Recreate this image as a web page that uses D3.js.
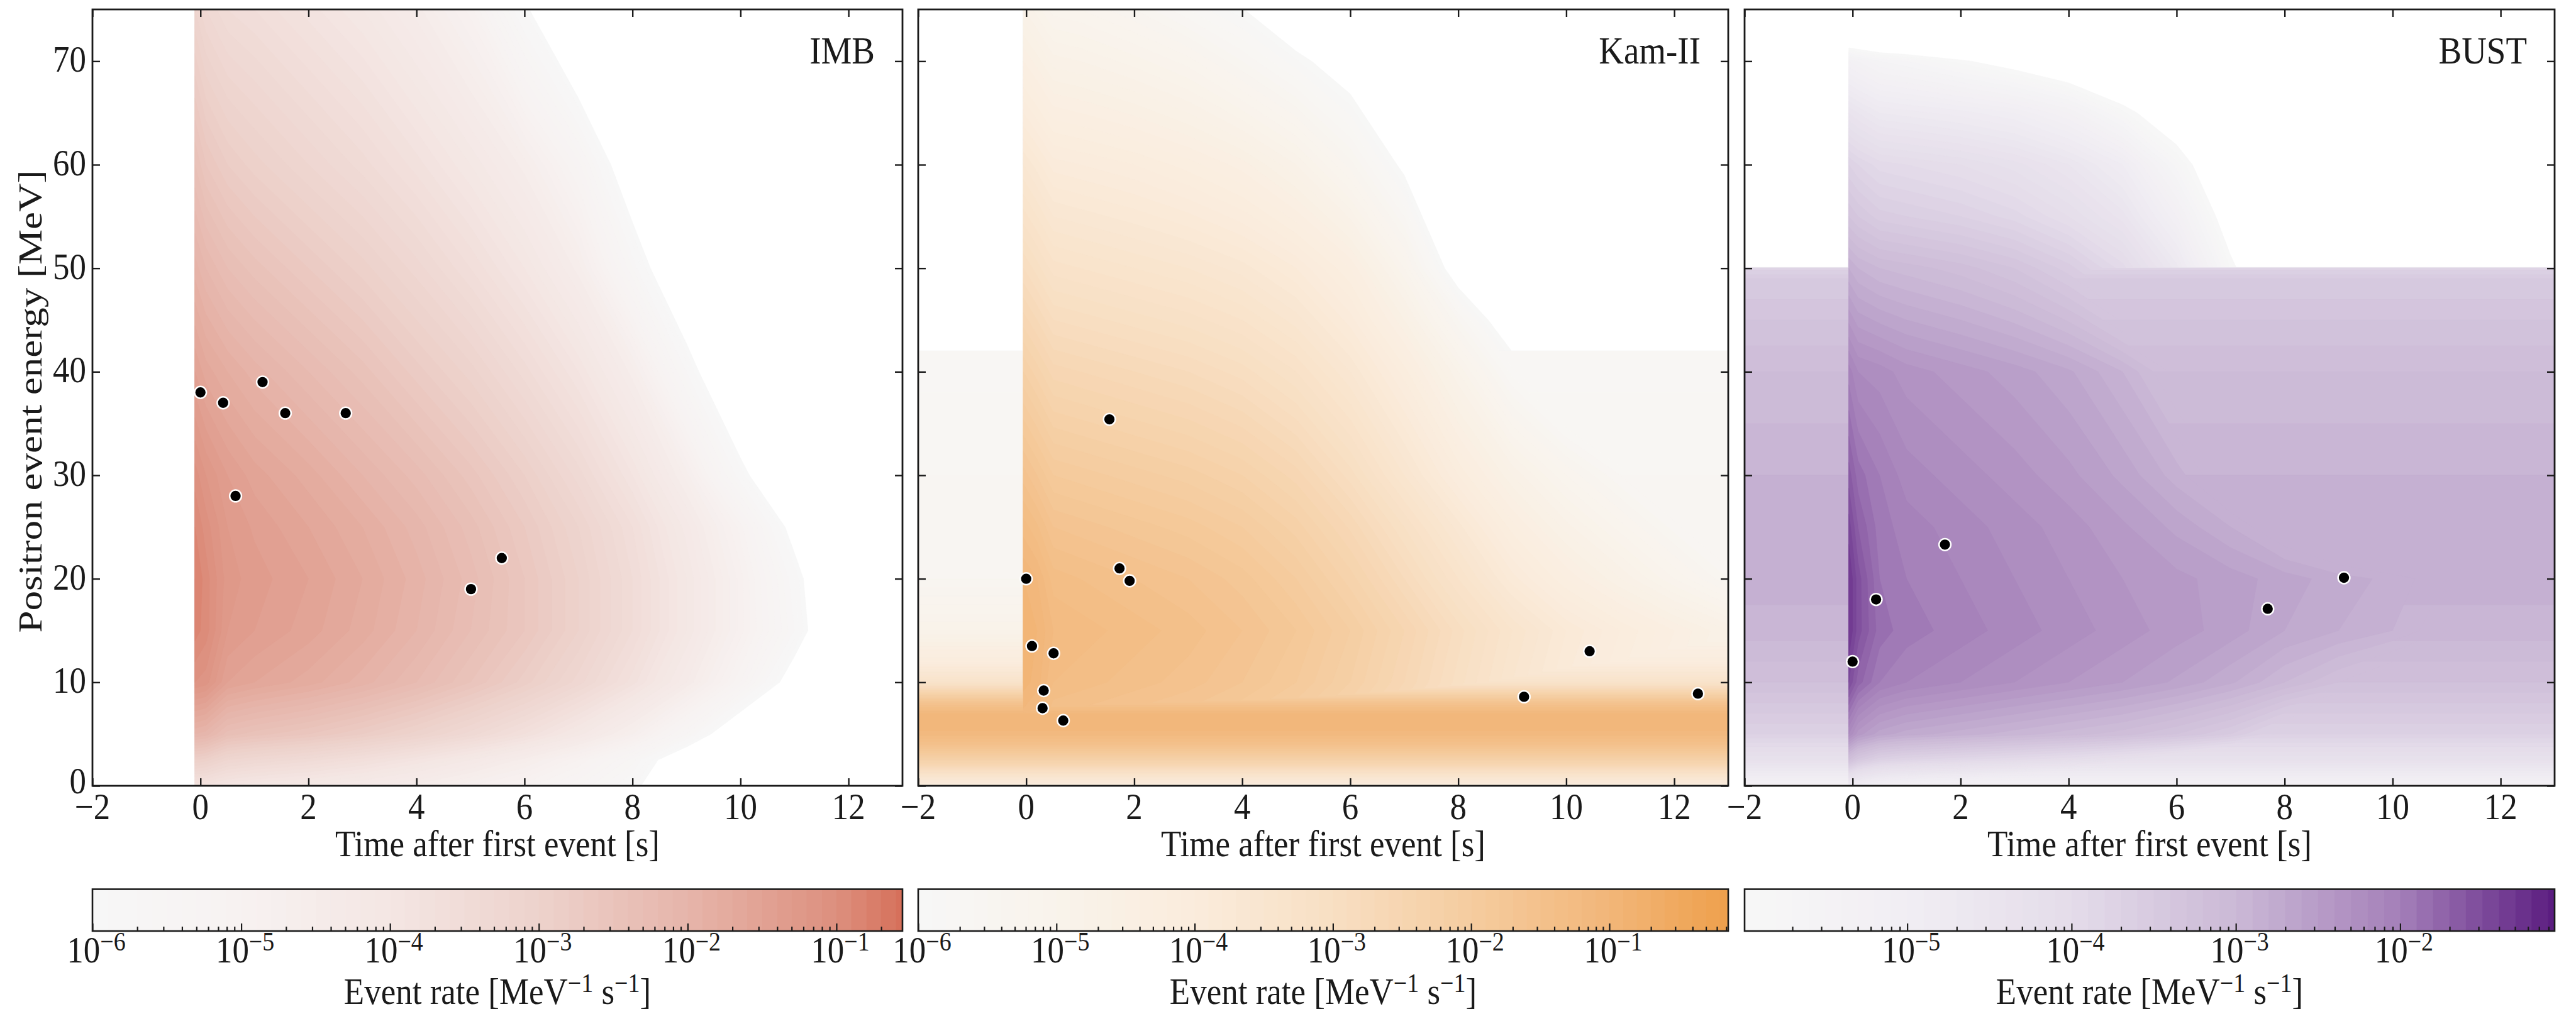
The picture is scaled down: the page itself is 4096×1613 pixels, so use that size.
<!DOCTYPE html>
<html><head><meta charset="utf-8">
<script src="https://cdn.jsdelivr.net/npm/d3@7"></script>
<style>html,body{margin:0;padding:0;background:#fff}svg{display:block}</style>
</head><body>
<svg id="chart" width="4096" height="1613"></svg>
<script>
// ---------------- DATA ----------------
const panelNames = ["IMB", "Kam-II", "BUST"];
const xTickValues = [-2, 0, 2, 4, 6, 8, 10, 12];
const yTickValues = [0, 10, 20, 30, 40, 50, 60, 70];

// observed events
const imbEventTime   = [0, 0.42, 0.65, 1.15, 1.57, 2.69, 5.01, 5.58];
const imbEventEnergy = [38, 37, 28, 39, 36, 36, 19, 22];
const kamEventTime   = [0, 0.107, 0.303, 0.324, 0.507, 0.686, 1.541, 1.728, 1.915, 9.219, 10.433, 12.439];
const kamEventEnergy = [20.0, 13.5, 7.5, 9.2, 12.8, 6.3, 35.4, 21.0, 19.8, 8.6, 13.0, 8.9];
const bustEventTime   = [0, 0.435, 1.71, 7.687, 9.099];
const bustEventEnergy = [12.0, 18.0, 23.3, 17.1, 20.1];

// log10 event rate [MeV^-1 s^-1] (rows = energy, columns = time)
const imbSignalTime   = [-0.1, 0.1, 0.5, 1, 2, 3, 4, 5, 6, 7, 8, 9, 10, 11, 12, 13];
const imbSignalEnergy = [0, 2.5, 5, 10, 15, 20, 25, 30, 40, 50, 60, 75];
const imbLogRate = [
  [-3.8, -3.85, -4.0, -4.1, -4.2, -4.35, -4.55, -4.8, -5.05, -5.4, -5.85, -6.8, -7.8, -8.8, -9.8, -10.8],
  [-2.9, -2.95, -3.2, -3.3, -3.45, -3.65, -3.9, -4.2, -4.55, -5.0, -5.55, -6.5, -7.5, -8.5, -9.5, -10.5],
  [-2.0, -2.05, -2.35, -2.45, -2.6, -2.8, -3.05, -3.35, -3.7, -4.15, -4.7, -5.5, -6.6, -7.8, -9.0, -10.2],
  [-1.1, -1.15, -1.5, -1.6, -1.75, -1.95, -2.2, -2.5, -2.85, -3.25, -3.75, -4.4, -5.2, -6.3, -7.5, -8.7],
  [-0.85, -0.95, -1.3, -1.4, -1.55, -1.75, -2.0, -2.3, -2.6, -3.0, -3.5, -4.1, -4.85, -5.7, -6.9, -8.1],
  [-0.8, -0.95, -1.25, -1.35, -1.5, -1.7, -1.95, -2.25, -2.6, -3.0, -3.5, -4.1, -4.85, -5.8, -7.0, -8.2],
  [-0.9, -1.05, -1.3, -1.42, -1.6, -1.8, -2.05, -2.35, -2.7, -3.1, -3.6, -4.25, -5.05, -6.2, -7.4, -8.6],
  [-1.05, -1.2, -1.4, -1.55, -1.75, -2.0, -2.25, -2.55, -2.9, -3.35, -3.9, -4.65, -5.8, -7.0, -8.2, -9.4],
  [-1.5, -1.65, -1.8, -1.95, -2.2, -2.45, -2.75, -3.05, -3.45, -3.9, -4.55, -5.7, -7.0, -8.2, -9.4, -10.6],
  [-1.95, -2.1, -2.3, -2.45, -2.7, -2.95, -3.25, -3.6, -4.0, -4.55, -5.6, -6.8, -7.8, -8.8, -9.8, -10.8],
  [-2.4, -2.6, -2.8, -2.95, -3.2, -3.45, -3.75, -4.1, -4.55, -5.25, -6.5, -7.5, -8.5, -9.5, -10.5, -11.5],
  [-3.1, -3.3, -3.5, -3.6, -3.85, -4.1, -4.45, -4.95, -5.9, -7.0, -8.0, -9.0, -10.0, -11.0, -12.0, -12.0]
];

const kamSignalTime   = [-0.05, 0.2, 0.5, 1, 2, 3, 4, 5, 6, 7, 8, 9, 10, 11, 12, 13];
const kamSignalEnergy = [0, 2.5, 5, 7.5, 10, 15, 20, 25, 30, 40, 45, 50, 60, 70, 75];
const kamLogRate = [
  [-4.5, -4.6, -4.85, -4.9, -5.0, -5.1, -5.25, -5.45, -5.75, -6.1, -6.5, -6.9, -7.3, -7.7, -8.1, -8.5],
  [-2.6, -2.7, -2.95, -3.0, -3.1, -3.2, -3.35, -3.55, -3.85, -4.25, -4.7, -5.15, -5.55, -5.9, -6.2, -6.5],
  [-1.6, -1.7, -1.95, -2.0, -2.1, -2.2, -2.35, -2.55, -2.85, -3.25, -3.7, -4.15, -4.55, -4.9, -5.2, -5.5],
  [-1.1, -1.2, -1.45, -1.5, -1.6, -1.7, -1.85, -2.05, -2.35, -2.75, -3.2, -3.65, -4.05, -4.4, -4.7, -5.0],
  [-0.95, -1.05, -1.3, -1.35, -1.45, -1.55, -1.7, -1.9, -2.2, -2.6, -3.05, -3.5, -3.9, -4.2, -4.5, -4.8],
  [-0.9, -1.0, -1.2, -1.25, -1.35, -1.45, -1.6, -1.8, -2.1, -2.5, -2.95, -3.4, -3.8, -4.1, -4.4, -4.7],
  [-1.0, -1.1, -1.35, -1.4, -1.5, -1.6, -1.75, -2.0, -2.35, -2.8, -3.3, -3.85, -4.3, -4.7, -5.1, -5.5],
  [-1.25, -1.38, -1.6, -1.65, -1.75, -1.85, -2.0, -2.25, -2.62, -3.1, -3.65, -4.25, -4.75, -5.15, -5.55, -5.95],
  [-1.55, -1.7, -1.9, -1.95, -2.05, -2.15, -2.3, -2.55, -2.95, -3.5, -4.1, -4.7, -5.2, -5.6, -6.0, -6.4],
  [-2.2, -2.35, -2.55, -2.6, -2.7, -2.8, -2.95, -3.2, -3.6, -4.15, -4.9, -5.75, -6.3, -6.8, -7.3, -7.8],
  [-2.55, -2.7, -2.9, -2.95, -3.05, -3.15, -3.3, -3.55, -3.95, -4.6, -5.5, -6.4, -7.1, -7.7, -8.3, -8.9],
  [-2.9, -3.05, -3.25, -3.3, -3.4, -3.5, -3.65, -3.9, -4.3, -5.1, -6.3, -7.2, -7.9, -8.5, -9.1, -9.7],
  [-3.6, -3.75, -3.95, -4.0, -4.1, -4.25, -4.45, -4.8, -5.35, -6.1, -6.9, -7.7, -8.4, -9.0, -9.6, -10.2],
  [-4.4, -4.55, -4.75, -4.8, -4.95, -5.15, -5.5, -5.88, -6.3, -7.0, -7.8, -8.6, -9.4, -10.0, -10.6, -11.2],
  [-4.8, -4.95, -5.15, -5.2, -5.4, -5.7, -5.98, -6.5, -7.1, -7.8, -8.5, -9.2, -9.9, -10.5, -11.1, -11.7]
];
// constant-in-time background (log10 rate) vs energy
const kamBackgroundEnergy  = [0, 1, 2, 3, 4, 5, 6, 7, 8, 9, 10, 12, 15, 20, 30, 42, 42.3, 75];
const kamBackgroundLogRate = [-4.2, -3.4, -2.6, -2.0, -1.5, -1.15, -1.0, -1.1, -1.6, -2.4, -3.3, -4.1, -4.9, -5.5, -5.6, -5.75, -12, -12];

const bustSignalTime   = [-0.07, 0.1, 0.5, 1, 2, 3, 4, 5, 6, 7, 8, 9, 10, 11, 12, 13];
const bustSignalEnergy = [0, 2.5, 5, 10, 15, 20, 25, 30, 40, 50, 55, 60, 65, 70, 75];
const bustLogRate = [
  [-4.8, -5.0, -5.2, -5.3, -5.4, -5.5, -5.6, -5.75, -5.9, -6.1, -6.35, -6.6, -6.9, -7.2, -7.5, -7.8],
  [-3.2, -3.45, -3.7, -3.8, -3.9, -4.0, -4.1, -4.25, -4.4, -4.6, -4.9, -5.15, -5.45, -5.75, -6.05, -6.35],
  [-2.2, -2.45, -2.65, -2.75, -2.85, -2.95, -3.05, -3.15, -3.3, -3.5, -3.85, -4.1, -4.4, -4.7, -5.0, -5.3],
  [-1.5, -1.75, -2.0, -2.1, -2.2, -2.3, -2.4, -2.5, -2.62, -2.78, -3.0, -3.2, -3.4, -3.65, -3.95, -4.25],
  [-1.3, -1.55, -1.85, -1.95, -2.05, -2.15, -2.25, -2.35, -2.45, -2.55, -2.7, -2.8, -2.9, -3.1, -3.35, -3.6],
  [-1.3, -1.55, -1.9, -2.0, -2.1, -2.2, -2.3, -2.4, -2.47, -2.55, -2.65, -2.75, -2.83, -3.0, -3.25, -3.5],
  [-1.45, -1.7, -1.95, -2.05, -2.15, -2.25, -2.35, -2.48, -2.63, -2.8, -3.05, -3.3, -3.65, -4.1, -4.6, -5.1],
  [-1.65, -1.85, -2.0, -2.15, -2.25, -2.35, -2.47, -2.63, -2.85, -3.15, -3.6, -4.15, -4.75, -5.4, -6.0, -6.6],
  [-2.05, -2.2, -2.25, -2.35, -2.45, -2.55, -2.68, -2.9, -3.25, -3.75, -4.4, -5.15, -5.9, -6.6, -7.3, -8.0],
  [-2.8, -2.9, -3.0, -3.05, -3.15, -3.3, -3.55, -3.95, -4.65, -5.9, -6.8, -7.5, -8.2, -8.9, -9.6, -10.3],
  [-3.3, -3.4, -3.55, -3.6, -3.7, -3.85, -4.1, -4.45, -5.2, -6.3, -7.2, -8.0, -8.8, -9.6, -10.4, -11.2],
  [-3.7, -3.8, -3.95, -4.0, -4.1, -4.25, -4.5, -4.9, -5.75, -6.6, -7.4, -8.2, -9.0, -9.8, -10.6, -11.4],
  [-4.4, -4.5, -4.7, -4.75, -4.85, -5.0, -5.3, -5.85, -6.4, -7.0, -7.7, -8.4, -9.1, -9.8, -10.5, -11.2],
  [-5.3, -5.4, -5.6, -5.7, -5.95, -6.2, -6.5, -6.8, -7.2, -7.6, -8.0, -8.4, -8.8, -9.2, -9.6, -10.0],
  [-8, -8, -8, -8, -8, -8, -8, -8, -8, -8, -8, -8, -8, -8, -8, -8]
];
const bustBackgroundEnergy  = [0, 2.5, 5, 10, 15, 20, 25, 30, 35, 40, 45, 49, 50, 50.3, 75];
const bustBackgroundLogRate = [-5.3, -4.3, -3.7, -3.2, -2.95, -2.85, -2.85, -2.9, -3.0, -3.1, -3.3, -3.5, -3.75, -12, -12];

// colour-bar ranges (log10 of min / max)
const imbColorbarRange  = [-6, -0.556];
const kamColorbarRange  = [-6, -0.14];
const bustColorbarRange = [-5.99, -1.06];

// ---------------- STYLE ----------------
const imbStops  = [[-6,"#f7f7f7"],[-5,"#f7f2f1"],[-4,"#f4e6e3"],[-3,"#edd2cc"],[-2,"#e6b5aa"],[-1,"#dd8f7e"],[-0.556,"#d6705b"]];
const kamStops  = [[-6,"#f7f7f7"],[-5,"#f9f3eb"],[-4,"#faecdc"],[-3,"#f8dfc3"],[-2,"#f5cc9f"],[-1,"#f2b679"],[-0.14,"#eea04c"]];
const bustStops = [[-6,"#f7f7f7"],[-5,"#f1eef3"],[-4,"#e4dcea"],[-3,"#cbb9d6"],[-2,"#a47fb9"],[-1.06,"#5b1d80"]];

const FONT = "'Liberation Serif','Times New Roman',serif";
const FS = 53, SY = 1.12, SY_ROT = 1.19;
const L = { lefts: [147, 1460, 2774], width: 1288, top: 15, bottom: 1250, cbTop: 1414.5, cbBottom: 1481 };
const INK = "#1a1a1a";

const svg = d3.select("#chart");
const defs = svg.append("defs");

function txt(g, x, y, anchor, size) {
  return g.append("text")
    .attr("transform", `translate(${x},${y}) scale(1,${SY})`)
    .attr("text-anchor", anchor)
    .attr("font-family", FONT)
    .attr("font-size", size || FS)
    .attr("fill", INK);
}
const minus = v => v < 0 ? "\u2212" + (-v) : String(v);

const panels = [
  { name: panelNames[0], sig: [imbSignalTime, imbSignalEnergy, imbLogRate], bg: null,
    ev: [imbEventTime, imbEventEnergy], range: imbColorbarRange, stops: imbStops },
  { name: panelNames[1], sig: [kamSignalTime, kamSignalEnergy, kamLogRate], bg: [kamBackgroundEnergy, kamBackgroundLogRate],
    ev: [kamEventTime, kamEventEnergy], range: kamColorbarRange, stops: kamStops },
  { name: panelNames[2], sig: [bustSignalTime, bustSignalEnergy, bustLogRate], bg: [bustBackgroundEnergy, bustBackgroundLogRate],
    ev: [bustEventTime, bustEventEnergy], range: bustColorbarRange, stops: bustStops }
];

panels.forEach((p, idx) => {
  const left = L.lefts[idx], right = left + L.width;
  const x = d3.scaleLinear().domain([-2, 13]).range([left, right]);
  const y = d3.scaleLinear().domain([0, 75]).range([L.bottom, L.top]);
  const cmap = d3.scaleLinear().domain(p.stops.map(s => s[0])).range(p.stops.map(s => s[1]))
    .interpolate(d3.interpolateRgb).clamp(true);
  const nLev = Math.floor((p.range[1] + 6) / 0.1 + 1e-6) + 1;
  const levels = d3.range(nLev).map(k => +(-6 + k * 0.1).toFixed(2));
  const bandColor = k => cmap(Math.min(levels[k] + 0.05, p.range[1]));

  function layer(T, E, rows) {
    const n = T.length, m = E.length, vals = new Array(n * m);
    for (let j = 0; j < m; j++) for (let i = 0; i < n; i++) vals[j * n + i] = rows[j][i];
    const gx = d3.scaleLinear().domain(T.map((_, i) => i + 0.5)).range(T).clamp(true);
    const gy = d3.scaleLinear().domain(E.map((_, j) => j + 0.5)).range(E).clamp(true);
    const path = d3.geoPath(d3.geoTransform({ point(px, py) { this.stream.point(x(gx(px)), y(gy(py))); } }));
    const polys = d3.contours().size([n, m]).thresholds(levels)(vals);
    return { path, polys };
  }
  const layers = [];
  if (p.bg) {
    const [bE, bV] = p.bg;
    layers.push(layer([-2, 13], bE, bV.map(v => [v, v])));
  }
  {
    const [sT, sE, sR] = p.sig;
    const T = [-2, +(sT[0] - 0.02).toFixed(3)].concat(sT);
    const rows = sR.map(r => [-12, -12].concat(r));
    layers.push(layer(T, sE, rows));
  }

  const clipId = "clip" + idx;
  defs.append("clipPath").attr("id", clipId).append("rect")
    .attr("x", left).attr("y", L.top).attr("width", L.width).attr("height", L.bottom - L.top);
  const gHeat = svg.append("g").attr("clip-path", `url(#${clipId})`);
  levels.forEach((lv, k) => {
    const col = bandColor(k);
    layers.forEach(ly => {
      gHeat.append("path").attr("d", ly.path(ly.polys[k])).attr("fill", col).attr("stroke", col).attr("stroke-width", 0.6);
    });
  });

  // events
  const gEv = svg.append("g").attr("clip-path", `url(#${clipId})`);
  gEv.selectAll("circle").data(d3.range(p.ev[0].length)).join("circle")
    .attr("cx", i => x(p.ev[0][i])).attr("cy", i => y(p.ev[1][i]))
    .attr("r", 9.4).attr("fill", "#000").attr("stroke", "#fff").attr("stroke-width", 2.5);

  // axes (ticks inward)
  const tickStyle = g => { g.select(".domain").remove(); g.selectAll(".tick line").attr("stroke", INK).attr("stroke-width", 2.4); };
  svg.append("g").attr("transform", `translate(0,${L.bottom})`)
    .call(d3.axisBottom(x).tickValues(xTickValues).tickSize(-12).tickFormat("")).call(tickStyle);
  svg.append("g").attr("transform", `translate(0,${L.top})`)
    .call(d3.axisTop(x).tickValues(xTickValues).tickSize(-12).tickFormat("")).call(tickStyle);
  svg.append("g").attr("transform", `translate(${left},0)`)
    .call(d3.axisLeft(y).tickValues(yTickValues).tickSize(-12).tickFormat("")).call(tickStyle);
  svg.append("g").attr("transform", `translate(${right},0)`)
    .call(d3.axisRight(y).tickValues(yTickValues).tickSize(-12).tickFormat("")).call(tickStyle);
  svg.append("rect").attr("x", left).attr("y", L.top).attr("width", L.width).attr("height", L.bottom - L.top)
    .attr("fill", "none").attr("stroke", INK).attr("stroke-width", 2.8);

  // tick labels
  const gLab = svg.append("g");
  xTickValues.forEach(v => txt(gLab, x(v), 1303, "middle").text(minus(v)));
  if (idx === 0) {
    yTickValues.forEach(v => txt(gLab, left - 10, y(v) + (v === 0 ? 12 : 17), "end").text(v));
    svg.append("text")
      .attr("transform", `translate(66,${(L.top + L.bottom) / 2 + 6}) rotate(-90) scale(${SY_ROT},1)`)
      .attr("text-anchor", "middle").attr("font-family", FONT).attr("font-size", FS).attr("fill", INK)
      .text("Positron event energy [MeV]");
  }
  txt(gLab, (left + right) / 2, 1362, "middle").text("Time after first event [s]");
  txt(gLab, right - 44, 101, "end", 55).text(p.name);

  // colour bar
  const cb = d3.scaleLog().domain([10 ** p.range[0], 10 ** p.range[1]]).range([left, right]);
  const gCb = svg.append("g");
  levels.forEach((lv, k) => {
    const a = Math.max(lv, p.range[0]);
    const b = k < levels.length - 1 ? levels[k + 1] : p.range[1];
    if (b <= a) return;
    gCb.append("rect").attr("x", cb(10 ** a)).attr("y", L.cbTop)
      .attr("width", cb(10 ** b) - cb(10 ** a) + 0.6).attr("height", L.cbBottom - L.cbTop)
      .attr("fill", bandColor(k));
  });
  const majors = [], minors = [];
  for (let d = -7; d <= 0; d++) {
    const v = 10 ** d;
    if (d >= p.range[0] - 1e-9 && d <= p.range[1] + 1e-9) majors.push(v);
    for (let m = 2; m <= 9; m++) {
      const lv = d + Math.log10(m);
      if (lv > p.range[0] && lv < p.range[1]) minors.push(m * v);
    }
  }
  const cbTick = g => { g.select(".domain").remove(); g.selectAll(".tick line").attr("stroke", INK).attr("stroke-width", 2.2); };
  gCb.append("g").attr("transform", `translate(0,${L.cbBottom})`)
    .call(d3.axisBottom(cb).tickValues(majors).tickSize(-12).tickFormat("")).call(cbTick);
  gCb.append("g").attr("transform", `translate(0,${L.cbBottom})`)
    .call(d3.axisBottom(cb).tickValues(minors).tickSize(-7).tickFormat("")).call(cbTick);
  gCb.append("rect").attr("x", left).attr("y", L.cbTop).attr("width", L.width).attr("height", L.cbBottom - L.cbTop)
    .attr("fill", "none").attr("stroke", INK).attr("stroke-width", 2.6);
  majors.forEach(v => {
    const t = txt(gCb, cb(v) + 6, 1531, "middle");
    t.append("tspan").text("10");
    t.append("tspan").attr("dy", -17).attr("font-size", 38).text("\u2212" + Math.round(-Math.log10(v)));
  });
  const cl = txt(gCb, (left + right) / 2, 1597, "middle");
  cl.append("tspan").text("Event rate [MeV");
  cl.append("tspan").attr("dy", -17).attr("font-size", 38).text("\u22121");
  cl.append("tspan").attr("dy", 17).text(" s");
  cl.append("tspan").attr("dy", -17).attr("font-size", 38).text("\u22121");
  cl.append("tspan").attr("dy", 17).text("]");
});
</script>
</body></html>
